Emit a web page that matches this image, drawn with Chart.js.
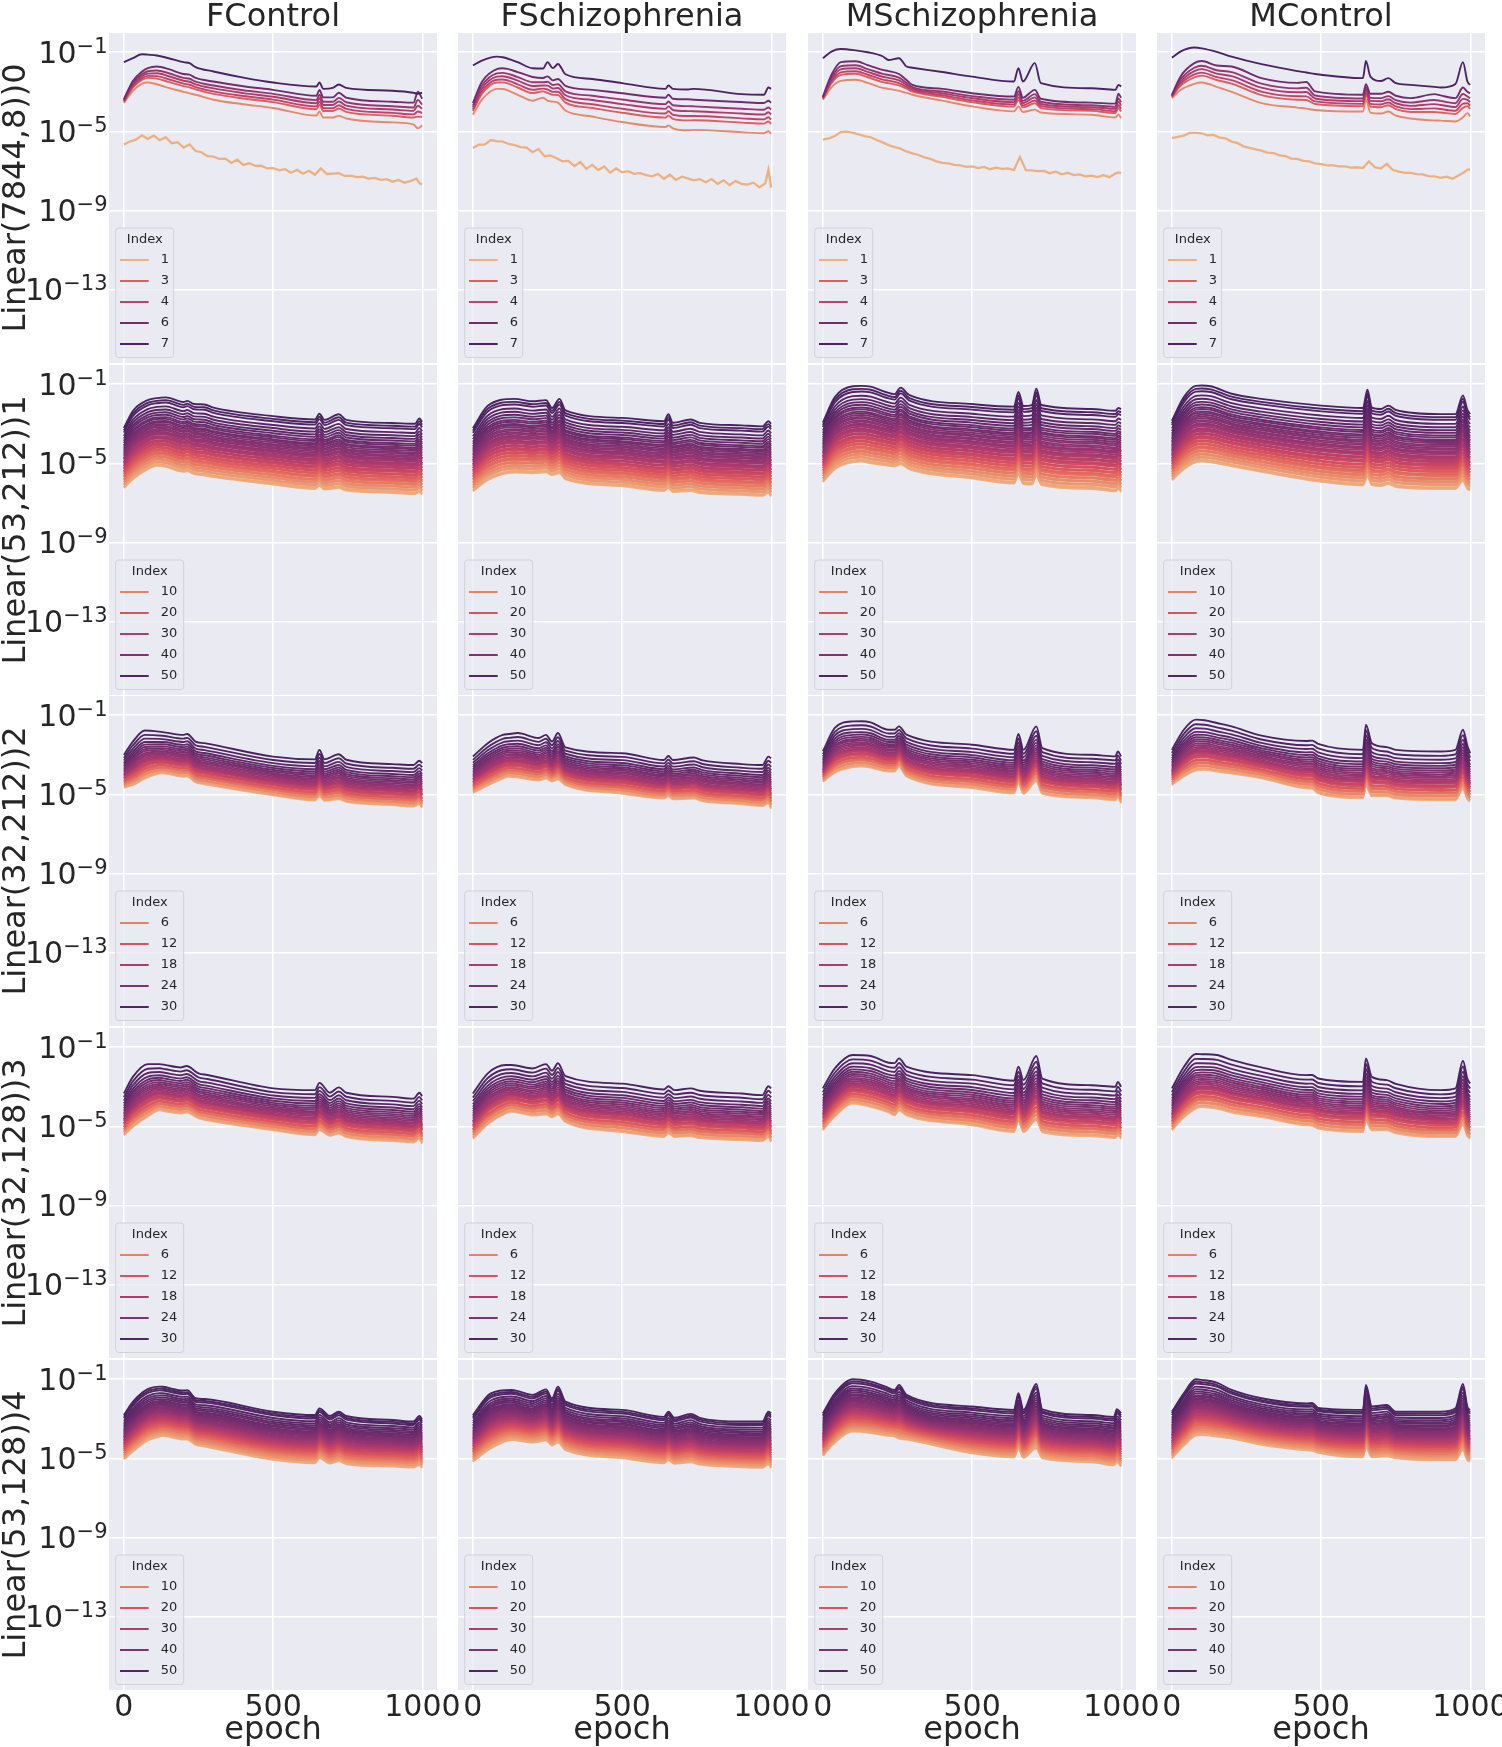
<!DOCTYPE html>
<html>
<head>
<meta charset="utf-8">
<script src="https://cdn.jsdelivr.net/npm/chart.js@4.4.0/dist/chart.umd.min.js"></script>
<style>
html, body { margin: 0; padding: 0; background: #fff; }
#wrap { position: relative; width: 1502px; height: 1747px; overflow: hidden; }
canvas { position: absolute; }
</style>
</head>
<body>
<div id="wrap"></div>
<script>
var columns = ['FControl', 'FSchizophrenia', 'MSchizophrenia', 'MControl'];
var rowLabels = ['Linear(7844,8))0', 'Linear(53,212))1', 'Linear(32,212))2', 'Linear(32,128))3', 'Linear(53,128))4'];
var xTicks = [0, 500, 1000];
var yTickExps = [-1, -5, -9, -13];
var legendRow0 = [1, 3, 4, 6, 7];
var legend53 = [10, 20, 30, 40, 50];
var legend32 = [6, 12, 18, 24, 30];

// row 0 : [epoch, top line, 2nd line, lightest line of the bundle]  (log10 values)
var row0Hues = [6, 5, 4.5, 4, 3, 2];
var row0Levels = [0, 0.22, 0.38, 0.54, 0.68, 1];
var fcontrol0 = [
  [0,-1.5,-3.37,-3.57],[30,-1.3,-2.45,-2.95],[60,-1.1,-1.98,-2.6],[80,-1.12,-1.8,-2.53],
  [110,-1.16,-1.72,-2.62],[150,-1.3,-1.85,-2.8],[200,-1.5,-2.1,-3.0],[220,-1.55,-2.13,-3.08],
  [240,-1.75,-2.3,-3.15],[300,-1.97,-2.48,-3.4],[400,-2.28,-2.72,-3.63],[500,-2.53,-2.9,-3.82],
  [645,-2.73,-3.2,-4.2],[655,-2.53,-2.9,-4.0],[668,-2.85,-3.28,-4.3],[700,-2.8,-3.28,-4.3],
  [720,-2.63,-3.05,-4.22],[745,-2.8,-3.3,-4.35],[900,-2.95,-3.5,-4.55],[970,-3.05,-3.55,-4.65],
  [985,-3.1,-3.0,-4.85],[999,-3.05,-3.35,-4.7]
];
var fschizo0 = [
  [0,-1.67,-3.57,-4.16],[30,-1.42,-2.5,-3.4],[80,-1.22,-1.85,-2.85],[100,-1.25,-1.81,-2.86],
  [150,-1.5,-2.0,-3.15],[200,-1.81,-2.25,-3.45],[235,-1.82,-2.3,-3.3],[250,-1.5,-2.22,-3.45],
  [268,-1.8,-2.42,-3.5],[285,-1.59,-2.35,-3.55],[310,-2.11,-2.7,-3.95],[400,-2.35,-2.9,-4.25],
  [500,-2.56,-3.07,-4.53],[645,-2.85,-3.3,-4.78],[655,-2.68,-3.15,-4.7],[670,-2.85,-3.35,-4.85],
  [720,-2.88,-3.38,-4.95],[740,-2.85,-3.4,-4.93],[900,-3.12,-3.52,-5.05],[975,-3.15,-3.57,-5.1],
  [990,-2.78,-3.45,-5.0],[999,-2.85,-3.55,-5.13]
];
var mschizo0 = [
  [0,-1.3,-3.24,-3.4],[30,-0.95,-2.1,-2.75],[60,-0.83,-1.5,-2.45],[110,-0.9,-1.45,-2.39],
  [150,-1.0,-1.65,-2.55],[200,-1.2,-1.89,-2.8],[220,-1.39,-1.95,-2.85],[255,-1.3,-2.1,-2.95],
  [280,-1.72,-2.4,-3.05],[300,-1.78,-2.65,-3.15],[400,-2.0,-2.85,-3.45],[500,-2.23,-3.07,-3.74],
  [640,-2.48,-3.24,-3.99],[655,-1.8,-2.75,-3.74],[670,-2.48,-3.3,-4.02],[710,-1.55,-2.9,-3.9],
  [730,-2.56,-3.35,-4.05],[900,-2.82,-3.55,-4.16],[980,-2.9,-3.6,-4.3],[990,-2.65,-3.1,-4.15],
  [999,-2.73,-3.3,-4.33]
];
var mcontrol0 = [
  [0,-1.27,-3.15,-3.32],[30,-0.95,-2.2,-2.9],[75,-0.76,-1.55,-2.6],[100,-0.8,-1.44,-2.53],
  [150,-0.98,-1.67,-2.75],[200,-1.22,-1.72,-3.0],[300,-1.6,-2.31,-3.57],[420,-1.95,-2.55,-3.8],
  [450,-2.02,-2.5,-3.85],[480,-2.1,-2.98,-3.92],[640,-2.31,-3.15,-4.0],[650,-1.44,-2.61,-3.4],
  [665,-2.23,-3.1,-4.05],[700,-2.45,-3.1,-4.1],[725,-2.31,-3.0,-4.0],[750,-2.56,-3.2,-4.2],
  [800,-2.65,-3.32,-4.35],[880,-2.75,-3.12,-4.45],[900,-2.78,-3.18,-4.46],[950,-2.6,-3.32,-4.5],
  [975,-1.5,-2.78,-4.3],[990,-2.48,-3.0,-4.08],[999,-2.65,-3.07,-4.24]
];

// row 0, Index 1 (the low noisy line), log10 values
var noiseEpochs = [0,20,40,60,80,100,120,140,160,180,200,220,240,260,280,300,320,340,360,380,400,420,440,460,480,500,
  520,540,560,580,600,620,640,660,680,700,720,740,760,780,800,820,840,860,880,900,920,940,960,980,990,999];
var fcontrol0Idx1 = [-5.67,-5.52,-5.42,-5.2,-5.38,-5.22,-5.45,-5.3,-5.6,-5.55,-5.82,-5.66,-6.0,-6.06,-6.26,-6.28,-6.4,
  -6.38,-6.6,-6.44,-6.7,-6.62,-6.75,-6.74,-6.88,-6.86,-6.98,-6.92,-7.1,-6.95,-7.15,-7.0,-7.2,-6.88,-7.16,-7.14,-7.12,
  -7.26,-7.24,-7.32,-7.3,-7.4,-7.36,-7.46,-7.42,-7.55,-7.46,-7.6,-7.52,-7.4,-7.62,-7.69];
var fschizo0Idx1 = [-5.84,-5.68,-5.66,-5.44,-5.5,-5.52,-5.64,-5.7,-5.8,-5.82,-6.06,-5.9,-6.26,-6.22,-6.36,-6.52,-6.5,
  -6.76,-6.56,-6.9,-6.7,-6.96,-6.78,-7.1,-6.88,-7.08,-7.02,-7.15,-7.12,-7.22,-7.28,-7.16,-7.4,-7.2,-7.46,-7.3,-7.38,
  -7.48,-7.42,-7.58,-7.42,-7.66,-7.48,-7.72,-7.52,-7.66,-7.7,-7.6,-7.84,-7.62,-6.95,-7.85];
var mschizo0Idx1 = [-5.42,-5.36,-5.24,-5.04,-5.02,-5.08,-5.16,-5.24,-5.3,-5.44,-5.56,-5.7,-5.8,-5.88,-6.02,-6.12,-6.2,
  -6.32,-6.4,-6.52,-6.6,-6.62,-6.7,-6.72,-6.8,-6.78,-6.86,-6.8,-6.92,-6.84,-6.9,-6.88,-6.96,-6.3,-6.97,-6.98,-7.02,
  -7.0,-7.12,-7.04,-7.18,-7.1,-7.22,-7.18,-7.28,-7.24,-7.32,-7.22,-7.32,-7.14,-7.08,-7.12];
var mcontrol0Idx1 = [-5.34,-5.28,-5.22,-5.08,-5.08,-5.1,-5.2,-5.18,-5.32,-5.36,-5.52,-5.6,-5.76,-5.84,-5.92,-5.98,-6.08,
  -6.1,-6.22,-6.26,-6.38,-6.4,-6.5,-6.52,-6.62,-6.66,-6.72,-6.72,-6.78,-6.78,-6.84,-6.82,-6.86,-6.52,-6.82,-6.88,-6.65,
  -6.96,-7.04,-7.1,-7.1,-7.17,-7.18,-7.27,-7.28,-7.36,-7.3,-7.4,-7.24,-7.06,-6.95,-6.93];

// rows 1-4 : [epoch, top line, bottom line]  (log10 values)
var fcontrol1 = [[0,-3.22,-6.25],[30,-2.35,-5.81],[80,-1.8,-5.3],[110,-1.7,-5.12],[140,-1.66,-5.18],[200,-1.9,-5.43],
  [212,-1.84,-5.4],[235,-2.0,-5.55],[270,-2.02,-5.62],[300,-2.18,-5.7],[500,-2.61,-6.07],[640,-2.78,-6.3],[655,-2.49,-6.15],
  [672,-2.8,-6.33],[720,-2.52,-6.25],[745,-2.8,-6.38],[900,-2.96,-6.5],[975,-3.0,-6.56],[990,-2.73,-6.45],[999,-2.9,-6.59]];
var fschizo1 = [[0,-3.22,-6.42],[50,-2.09,-5.85],[140,-1.74,-5.47],[200,-1.86,-5.5],[245,-1.8,-5.45],[265,-2.2,-5.6],
  [290,-1.74,-5.5],[310,-2.32,-5.81],[500,-2.7,-6.16],[640,-2.87,-6.4],[655,-2.52,-6.25],[670,-2.95,-6.45],[730,-2.78,-6.4],
  [760,-2.95,-6.5],[900,-3.08,-6.6],[970,-3.13,-6.65],[990,-2.87,-6.5],[999,-3.0,-6.68]];
var mschizo1 = [[0,-2.94,-5.95],[40,-1.65,-5.3],[100,-1.1,-4.95],[130,-1.08,-4.91],[160,-1.12,-5.0],[210,-1.39,-5.1],
  [240,-1.5,-5.17],[260,-1.17,-5.05],[290,-1.55,-5.3],[500,-2.0,-5.77],[640,-2.13,-6.03],[655,-1.39,-5.6],[672,-2.1,-6.05],
  [700,-2.05,-6.08],[715,-1.22,-5.65],[732,-2.05,-6.1],[900,-2.25,-6.3],[980,-2.34,-6.42],[990,-2.2,-6.3],[999,-2.25,-6.46]];
var mcontrol1 = [[0,-2.85,-5.86],[40,-1.65,-5.3],[80,-1.08,-4.95],[100,-1.06,-4.91],[130,-1.1,-4.95],[200,-1.48,-5.15],
  [300,-1.74,-5.43],[500,-2.08,-5.94],[640,-2.2,-6.12],[655,-1.27,-5.7],[670,-2.18,-6.1],[700,-2.25,-6.15],[725,-2.08,-6.05],
  [750,-2.3,-6.2],[900,-2.51,-6.3],[950,-2.51,-6.3],[975,-1.56,-5.9],[990,-2.3,-6.3],[999,-2.51,-6.37]];

var fcontrol2 = [[0,-3.01,-4.66],[30,-2.33,-4.54],[70,-1.77,-4.2],[130,-1.85,-3.94],[200,-1.99,-4.11],[212,-1.95,-4.1],
  [240,-2.33,-4.4],[270,-2.41,-4.49],[500,-3.09,-5.05],[640,-3.23,-5.31],[655,-2.75,-5.1],[672,-3.23,-5.33],[720,-2.97,-5.25],
  [745,-3.25,-5.38],[900,-3.47,-5.55],[970,-3.52,-5.62],[990,-3.3,-5.5],[999,-3.42,-5.68]];
var fschizo2 = [[0,-3.09,-4.93],[50,-2.41,-4.55],[100,-1.99,-4.2],[120,-1.95,-4.11],[150,-1.9,-4.15],[220,-2.15,-4.3],
  [245,-1.99,-4.2],[265,-2.33,-4.35],[285,-1.9,-4.25],[310,-2.62,-4.54],[500,-2.92,-4.97],[640,-3.26,-5.22],[655,-3.06,-5.1],
  [670,-3.26,-5.25],[740,-3.14,-5.22],[770,-3.28,-5.35],[900,-3.47,-5.5],[970,-3.52,-5.6],[990,-3.09,-5.45],[999,-3.18,-5.73]];
var mschizo2 = [[0,-2.83,-4.36],[40,-1.64,-3.9],[100,-1.31,-3.62],[130,-1.3,-3.59],[160,-1.36,-3.65],[220,-1.73,-3.85],
  [240,-1.73,-3.85],[255,-1.56,-3.6],[280,-1.98,-4.1],[500,-2.49,-4.69],[640,-2.75,-4.95],[655,-1.95,-4.45],[672,-2.75,-4.97],
  [715,-1.56,-4.35],[735,-2.66,-4.98],[900,-3.0,-5.2],[980,-3.08,-5.3],[988,-2.83,-5.15],[999,-3.08,-5.46]];
var mcontrol2 = [[0,-2.75,-4.53],[40,-1.73,-4.1],[80,-1.22,-3.8],[110,-1.25,-3.76],[150,-1.39,-3.85],[200,-1.56,-3.95],
  [300,-2.03,-4.19],[450,-2.3,-4.7],[470,-2.28,-4.72],[490,-2.45,-4.95],[640,-2.75,-5.2],[650,-1.47,-4.6],[670,-2.41,-5.1],
  [720,-2.61,-5.1],[750,-2.75,-5.22],[900,-2.83,-5.3],[950,-2.75,-5.3],[975,-1.73,-4.75],[990,-2.55,-5.25],[999,-2.92,-5.37]];

var fcontrol3 = [[0,-3.34,-5.46],[30,-2.5,-5.03],[80,-1.85,-4.5],[120,-1.85,-4.19],[140,-1.9,-4.25],[190,-2.02,-4.35],
  [210,-1.95,-4.3],[250,-2.32,-4.6],[280,-2.4,-4.7],[500,-3.08,-5.2],[640,-3.17,-5.46],[655,-2.8,-5.2],[690,-3.3,-5.48],
  [720,-3.03,-5.38],[745,-3.3,-5.55],[900,-3.51,-5.75],[970,-3.6,-5.82],[990,-3.3,-5.65],[999,-3.47,-5.88]];
var fschizo3 = [[0,-3.34,-5.63],[50,-2.32,-4.9],[110,-1.9,-4.35],[130,-1.9,-4.27],[200,-2.07,-4.45],[245,-1.85,-4.4],
  [265,-2.19,-4.55],[285,-1.81,-4.4],[310,-2.46,-4.78],[500,-2.84,-5.29],[640,-3.14,-5.54],[655,-2.97,-5.35],[675,-3.17,-5.55],
  [730,-3.08,-5.5],[760,-3.2,-5.6],[900,-3.34,-5.7],[970,-3.42,-5.75],[990,-2.97,-5.55],[999,-3.08,-5.8]];
var mschizo3 = [[0,-3.08,-5.2],[40,-2.07,-4.5],[100,-1.39,-3.85],[160,-1.44,-4.02],[220,-1.78,-4.3],[240,-1.8,-4.44],
  [255,-1.56,-4.2],[280,-1.98,-4.44],[500,-2.41,-4.95],[640,-2.69,-5.29],[655,-1.98,-4.75],[672,-2.66,-5.3],[715,-1.44,-4.7],
  [735,-2.58,-5.3],[900,-2.92,-5.5],[980,-3.0,-5.6],[988,-2.75,-5.45],[999,-3.0,-5.63]];
var mcontrol3 = [[0,-3.08,-5.2],[40,-2.0,-4.55],[80,-1.34,-4.1],[100,-1.35,-4.02],[150,-1.39,-4.1],[200,-1.64,-4.3],
  [300,-2.02,-4.53],[450,-2.41,-4.95],[470,-2.4,-4.97],[490,-2.58,-5.12],[640,-2.75,-5.29],[650,-1.56,-4.75],[670,-2.5,-5.2],
  [720,-2.66,-5.2],[750,-2.85,-5.35],[900,-3.17,-5.55],[950,-3.08,-5.55],[975,-1.68,-4.95],[990,-2.6,-5.5],[999,-2.83,-5.63]];

var fcontrol4 = [[0,-2.81,-5.05],[30,-2.14,-4.66],[80,-1.5,-4.1],[120,-1.37,-3.9],[130,-1.38,-3.87],[200,-1.57,-4.05],
  [212,-1.55,-4.05],[240,-1.96,-4.32],[270,-2.0,-4.4],[500,-2.64,-5.08],[640,-2.81,-5.25],[655,-2.47,-5.0],[690,-2.86,-5.27],
  [720,-2.64,-5.15],[745,-2.86,-5.3],[900,-3.06,-5.42],[970,-3.14,-5.47],[990,-2.86,-5.35],[999,-3.02,-5.5]];
var fschizo4 = [[0,-2.81,-5.17],[60,-1.71,-4.5],[130,-1.54,-4.07],[200,-1.79,-4.2],[245,-1.51,-4.1],[265,-1.96,-4.35],
  [285,-1.37,-4.2],[310,-2.13,-4.58],[500,-2.55,-5.0],[640,-2.9,-5.25],[655,-2.64,-5.1],[675,-2.95,-5.28],[730,-2.75,-5.2],
  [760,-2.95,-5.32],[900,-3.14,-5.45],[970,-3.14,-5.48],[990,-2.64,-5.3],[999,-2.72,-5.5]];
var mschizo4 = [[0,-2.72,-4.88],[40,-1.71,-4.2],[100,-1.0,-3.65],[160,-1.12,-3.72],[210,-1.37,-3.85],[240,-1.54,-3.9],
  [255,-1.29,-4.0],[280,-1.79,-4.05],[500,-2.38,-4.75],[640,-2.55,-4.95],[655,-1.71,-4.55],[672,-2.55,-4.97],[715,-1.24,-4.5],
  [735,-2.52,-5.0],[900,-2.81,-5.2],[975,-2.9,-5.35],[985,-2.52,-5.2],[999,-2.72,-5.42]];
var mcontrol4 = [[0,-2.64,-5.0],[40,-1.71,-4.35],[80,-1.0,-3.85],[100,-1.03,-3.82],[150,-1.17,-3.9],[200,-1.54,-4.0],
  [300,-1.96,-4.32],[450,-2.22,-4.6],[470,-2.2,-4.62],[490,-2.45,-4.72],[640,-2.55,-4.95],[650,-1.29,-4.45],[670,-2.38,-4.95],
  [720,-2.3,-4.9],[750,-2.64,-5.0],[900,-2.64,-5.1],[950,-2.47,-5.1],[975,-1.24,-4.6],[990,-2.4,-5.1],[999,-2.55,-5.17]];

// where each Index sits between the top (0) and bottom (1) line
var levels53 = [1.0,0.975,0.985,0.95,0.935,0.94,0.91,0.895,0.9,0.87,0.855,0.86,0.83,0.815,0.8,0.805,0.775,0.76,0.765,
  0.735,0.72,0.725,0.695,0.68,0.665,0.67,0.64,0.625,0.63,0.6,0.585,0.565,0.57,0.54,0.52,0.5,0.505,0.475,0.455,0.43,0.41,
  0.385,0.36,0.34,0.31,0.285,0.25,0.215,0.175,0.13,0.075,0.04,0.0];
var levels32 = [1.0,0.965,0.975,0.93,0.905,0.915,0.87,0.845,0.85,0.81,0.79,0.795,0.75,0.725,0.7,0.705,0.665,0.64,0.61,
  0.615,0.575,0.54,0.505,0.47,0.43,0.39,0.345,0.295,0.24,0.17,0.09,0.0];

var row0 = [fcontrol0, fschizo0, mschizo0, mcontrol0];
var row0Noise = [fcontrol0Idx1, fschizo0Idx1, mschizo0Idx1, mcontrol0Idx1];
var rows = [null,
  [fcontrol1, fschizo1, mschizo1, mcontrol1],
  [fcontrol2, fschizo2, mschizo2, mcontrol2],
  [fcontrol3, fschizo3, mschizo3, mcontrol3],
  [fcontrol4, fschizo4, mschizo4, mcontrol4]];
var rowLevels = [null, levels53, levels32, levels32, levels53];
var rowLegends = [legendRow0, legend53, legend32, legend32, legend53];

// seaborn "flare"
var flare = ['#edb081', '#e98d6b', '#e3685c', '#d14a61', '#b13c6c', '#8f3371', '#6c2b6d', '#4b2362'];
function hex(h) { return [parseInt(h.substr(1, 2), 16), parseInt(h.substr(3, 2), 16), parseInt(h.substr(5, 2), 16)]; }
function flareAt(t) {
  var s = Math.max(0, Math.min(1, t)) * (flare.length - 1);
  var i = Math.min(Math.floor(s), flare.length - 2), f = s - i;
  var a = hex(flare[i]), b = hex(flare[i + 1]);
  return 'rgb(' + [0, 1, 2].map(function(k) { return Math.round(a[k] + (b[k] - a[k]) * f); }).join(',') + ')';
}
function legendColor(r, v) {
  if (r === 0) return flareAt((v - 1) / 6);
  return flareAt(v / (rowLevels[r].length - 1));
}

function line(points, color, jagged) {
  return {
    data: points, borderColor: color, borderWidth: jagged ? 2.3 : 1.9, pointRadius: 0,
    cubicInterpolationMode: jagged ? 'default' : 'monotone', tension: 0, fill: false
  };
}

function panelSets(r, c) {
  var sets = [];
  if (r === 0) {
    var p = row0[c];
    sets.push(line(p.map(function(q) { return {x: q[0], y: Math.pow(10, q[1])}; }), flareAt(1)));
    row0Levels.forEach(function(L, k) {
      sets.push(line(p.map(function(q) { return {x: q[0], y: Math.pow(10, q[2] + L * (q[3] - q[2]))}; }),
        flareAt((row0Hues[k] - 1) / 6)));
    });
    sets.push(line(noiseEpochs.map(function(e, i) { return {x: e, y: Math.pow(10, row0Noise[c][i])}; }), flareAt(0), true));
    return sets;
  }
  var prof = rows[r][c], lv = rowLevels[r], n = lv.length;
  for (var i = n - 1; i >= 0; i--) {
    (function(L, idx) {
      sets.push(line(prof.map(function(q) { return {x: q[0], y: Math.pow(10, q[1] + L * (q[2] - q[1]))}; }),
        flareAt(idx / (n - 1))));
    })(lv[i], i);
  }
  return sets;
}

var TXT = '#262626';
var FONT = 'DejaVu Sans';

var panelPlugin = {
  id: 'panel',
  beforeDraw: function(chart) {
    var a = chart.chartArea, ctx = chart.ctx;
    ctx.save();
    ctx.fillStyle = '#eaeaf2';
    ctx.fillRect(a.left, a.top, a.right - a.left, a.bottom - a.top);
    ctx.restore();
  },
  afterDatasetsDraw: function(chart, args, opts) {
    var a = chart.chartArea, ctx = chart.ctx, r = opts.row;
    var labels = rowLegends[r];
    var w = r === 0 ? 58 : 68, h = 129.5;
    var bx = a.left + 6.7, by = a.bottom - 5.5 - h;
    ctx.save();
    ctx.beginPath();
    ctx.roundRect(bx, by, w, h, 3);
    ctx.fillStyle = 'rgba(234,234,242,0.8)';
    ctx.fill();
    ctx.strokeStyle = '#d2d2d8';
    ctx.lineWidth = 1;
    ctx.stroke();
    ctx.fillStyle = TXT;
    ctx.font = '13px "' + FONT + '"';
    ctx.textAlign = 'center';
    ctx.textBaseline = 'middle';
    ctx.fillText('Index', bx + w / 2, by + 11.5);
    ctx.textAlign = 'left';
    labels.forEach(function(v, k) {
      var y = by + 32 + 21 * k;
      ctx.strokeStyle = legendColor(r, v);
      ctx.lineWidth = 2;
      ctx.beginPath();
      ctx.moveTo(bx + 4.3, y);
      ctx.lineTo(bx + 33, y);
      ctx.stroke();
      ctx.fillText(String(v), bx + 45, y);
    });
    ctx.restore();
  },
  afterDraw: function(chart, args, opts) {
    var a = chart.chartArea, ctx = chart.ctx;
    ctx.save();
    ctx.fillStyle = TXT;
    if (opts.row === 0) {
      ctx.font = '32px "' + FONT + '"';
      ctx.textAlign = 'center';
      ctx.textBaseline = 'alphabetic';
      ctx.fillText(columns[opts.col], (a.left + a.right) / 2, 26);
    }
    if (opts.col === 0) {
      var ys = chart.scales.y;
      ctx.textAlign = 'right';
      ctx.textBaseline = 'alphabetic';
      yTickExps.forEach(function(e) {
        var y = ys.getPixelForValue(Math.pow(10, e));
        var sup = '\u2212' + Math.abs(e);
        var xr = a.left - 1.5;
        ctx.font = '21px "' + FONT + '"';
        var sw = ctx.measureText(sup).width;
        ctx.fillText(sup, xr, y + 1);
        ctx.font = '30px "' + FONT + '"';
        ctx.fillText('10', xr - sw, y + 10.7);
      });
    }
    ctx.restore();
  }
};

var colLeft = [109, 458, 808, 1157];
var rowTop = [33, 365, 696, 1028, 1360];
var PW = 328, PH = 330, PAGE_H = 1747;
var wrap = document.getElementById('wrap');

for (var r = 0; r < 5; r++) {
  for (var c = 0; c < 4; c++) {
    (function(r, c) {
      var padL = c === 0 ? colLeft[0] : 0;
      var padT = r === 0 ? rowTop[0] : 0;
      var padB = r === 4 ? PAGE_H - (rowTop[4] + PH) : 0;
      var padR = r === 4 ? 40 : 0;
      var cv = document.createElement('canvas');
      var W = PW + padL + padR, H = PH + padT + padB;
      cv.width = W; cv.height = H;
      cv.style.width = W + 'px'; cv.style.height = H + 'px';
      cv.style.left = (colLeft[c] - padL) + 'px';
      cv.style.top = (rowTop[r] - padT) + 'px';
      wrap.appendChild(cv);
      new Chart(cv, {
        type: 'line',
        data: {datasets: panelSets(r, c)},
        options: {
          responsive: false, animation: false, events: [], parsing: false, normalized: true,
          devicePixelRatio: 1,
          layout: {padding: {left: 0, top: padT, right: padR, bottom: 0}},
          plugins: {legend: {display: false}, tooltip: {enabled: false}, panel: {row: r, col: c}},
          scales: {
            x: {
              type: 'linear', min: -49.95, max: 1048.95,
              afterBuildTicks: function(s) { s.ticks = xTicks.map(function(v) { return {value: v}; }); },
              afterFit: function(s) { s.height = padB; },
              grid: {color: '#ffffff', lineWidth: 1.6, drawTicks: false},
              border: {display: false},
              ticks: {display: r === 4, color: TXT, font: {family: FONT, size: 30, lineHeight: 1}, padding: 3,
                maxRotation: 0, autoSkip: false, callback: function(v) { return String(v); }},
              title: {display: r === 4, text: 'epoch', color: TXT, font: {family: FONT, size: 32, lineHeight: 1},
                padding: {top: 0, bottom: 0}}
            },
            y: {
              type: 'logarithmic', min: Math.pow(10, -16.73), max: Math.pow(10, -0.023),
              afterBuildTicks: function(s) { s.ticks = yTickExps.map(function(e) { return {value: Math.pow(10, e)}; }); },
              afterFit: function(s) { s.width = padL; },
              grid: {color: '#ffffff', lineWidth: 1.6, drawTicks: false},
              border: {display: false},
              ticks: {display: false},
              title: {display: c === 0, text: rowLabels[r], color: TXT, font: {family: FONT, size: 32, lineHeight: 1},
                padding: {top: 1, bottom: 0}}
            }
          }
        },
        plugins: [panelPlugin]
      });
    })(r, c);
  }
}
</script>
</body>
</html>
